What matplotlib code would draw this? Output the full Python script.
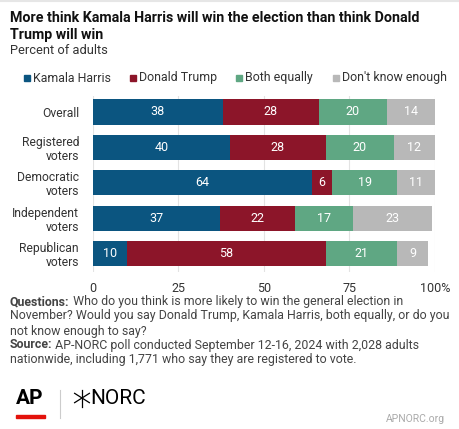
import matplotlib.pyplot as plt
from matplotlib.patches import Rectangle
from matplotlib.lines import Line2D

plt.rcParams['font.family'] = ['Roboto', 'DejaVu Sans']

groups = ['Overall', 'Registered\nvoters', 'Democratic\nvoters', 'Independent\nvoters', 'Republican\nvoters']
series = ['Kamala Harris', 'Donald Trump', 'Both equally', "Don't know enough"]
harris = [38, 40, 64, 37, 10]
trump = [28, 28, 6, 22, 58]
both = [20, 20, 19, 17, 21]
dontknow = [14, 12, 11, 23, 9]
xticks = [0, 25, 50, 75, 100]
xticklabels = ['0', '25', '50', '75', '100%']

colors = ['#0b5580', '#8c1529', '#5fa783', '#b8b8b8']

W, H = 460, 429
fig = plt.figure(figsize=(W / 100, H / 100), dpi=100)

def fx(x):
    return x / W

def fy(y):
    return 1 - y / H

# axes placed in pixel terms
ax_top, ax_bot = 96, 272
ax = fig.add_axes([fx(93), fy(ax_bot), fx(435) - fx(93), (ax_bot - ax_top) / H])

ypos = list(range(len(groups)))
left = [0] * len(groups)
for vals, col in zip([harris, trump, both, dontknow], colors):
    bars = ax.barh(ypos, vals, left=left, height=0.71, color=col, zorder=3)
    for b, v in zip(bars, vals):
        ax.text(b.get_x() + b.get_width() / 2, b.get_y() + b.get_height() / 2, str(v),
                ha='center', va='center', color='white', fontsize=9, zorder=4)
    left = [l + v for l, v in zip(left, vals)]

ax.set_xlim(0, 100)
ax.set_ylim(4.523, -0.452)
ax.set_xticks(xticks)
ax.set_xticklabels(xticklabels)
ax.set_yticks(ypos)
ax.set_yticklabels(groups, ha='right', linespacing=1.1)
ax.tick_params(axis='both', length=0, labelsize=9, colors='#333333')
ax.tick_params(axis='y', labelsize=8.7, pad=10)
ax.tick_params(axis='x', pad=7)
ax.grid(axis='x', color='#e3e3e3', linewidth=0.8, zorder=0)
for s in ax.spines.values():
    s.set_visible(False)

# title block
fig.text(fx(10), fy(18), 'More think Kamala Harris will win the election than think Donald',
         fontsize=10.3, fontweight='bold', color='#111111', va='center')
fig.text(fx(10), fy(35), 'Trump will win', fontsize=10.3, fontweight='bold', color='#111111', va='center')
fig.text(fx(10), fy(51), 'Percent of adults', fontsize=9.3, color='#333333', va='center')

# legend
leg_x = [24, 130, 236, 333]
for lx, name, col in zip(leg_x, series, colors):
    fig.add_artist(Rectangle((fx(lx), fy(81)), fx(6), 6 / H, color=col, transform=fig.transFigure))
    fig.text(fx(lx + 9), fy(78), name, fontsize=8.9, color='#333333', va='center')

# notes
fig.canvas.draw()
renderer = fig.canvas.get_renderer()
notes = [
    ('Questions:', ' Who do you think is more likely to win the general election in', 302),
    ('', 'November? Would you say Donald Trump, Kamala Harris, both equally, or do you', 316),
    ('', 'not know enough to say?', 331),
    ('Source:', ' AP-NORC poll conducted September 12-16, 2024 with 2,028 adults', 345),
    ('', 'nationwide, including 1,771 who say they are registered to vote.', 360),
]
for bold, rest, y in notes:
    x0 = fx(10)
    if bold:
        t = fig.text(x0, fy(y), bold, fontsize=8.95, fontweight='bold', color='#444444', va='center')
        bb = t.get_window_extent(renderer)
        x0 = x0 + bb.width / W
    fig.text(x0, fy(y), rest, fontsize=8.95, color='#444444', va='center')

# logos
fig.text(fx(16), fy(398), 'AP', fontsize=15, fontweight='bold', color='black', va='center')
fig.add_artist(Rectangle((fx(16), fy(417.5)), fx(29), 3 / H, color='#e3120b', transform=fig.transFigure))
fig.add_artist(Line2D([fx(60), fx(60)], [fy(390), fy(418)], color='#cccccc', lw=0.8, transform=fig.transFigure))
cx, cy, r = 82, 398, 8.5
for dx, dy in [(0, r), (r * 0.87, r * 0.55), (r * 0.87, -r * 0.55)]:
    fig.add_artist(Line2D([fx(cx - dx), fx(cx + dx)], [fy(cy - dy), fy(cy + dy)],
                          color='black', lw=0.9, transform=fig.transFigure))
fig.text(fx(90), fy(398), 'NORC', fontsize=15, color='black', va='center')
fig.text(fx(445), fy(419), 'APNORC.org', fontsize=7.5, color='#aaaaaa', ha='right', va='center')

fig.add_artist(Line2D([0, 1], [fy(1), fy(1)], color='#e6e6e6', lw=1.5, transform=fig.transFigure))

fig.savefig('out.png', dpi=100, facecolor='white')
